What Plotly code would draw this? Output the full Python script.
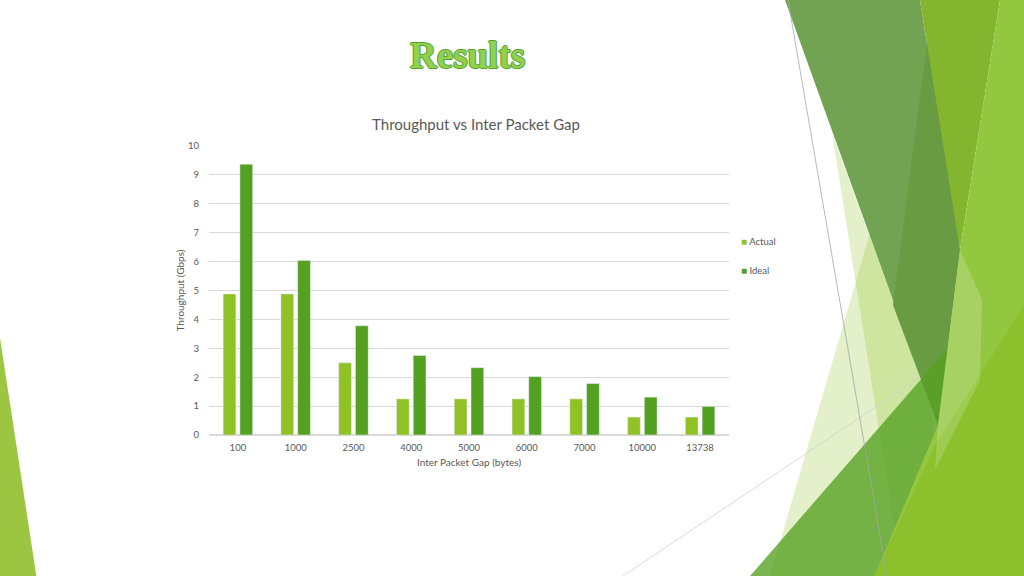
import plotly.graph_objects as go

# data
gaps = ["100", "1000", "2500", "4000", "5000", "6000", "7000", "10000", "13738"]
actual = [4.88, 4.88, 2.5, 1.25, 1.25, 1.25, 1.25, 0.62, 0.62]
ideal = [9.37, 6.04, 3.78, 2.75, 2.33, 2.02, 1.78, 1.31, 0.99]
y_ticks = [0, 1, 2, 3, 4, 5, 6, 7, 8, 9, 10]
series_names = ["Actual", "Ideal"]

W, H = 1024, 576
ACTUAL_COLOR = "#90C226"
IDEAL_COLOR = "#54A021"
TEXT_COLOR = "#595959"
FONT = "Lato"


# screen pixel -> paper (margins are 0 so paper = whole figure)
def to_paper(x, y):
    return x / W, 1 - y / H


def poly(points, color, opacity=1.0):
    parts = []
    for i, (x, y) in enumerate(points):
        px, py = to_paper(x, y)
        parts.append(("M" if i == 0 else "L") + "{:.4f},{:.4f}".format(px, py))
    return dict(type="path", path=" ".join(parts) + " Z", xref="paper", yref="paper",
                fillcolor=color, opacity=opacity, line=dict(width=0), layer="below")


def seg(p0, p1, color, width=0.8):
    x0, y0 = to_paper(*p0)
    x1, y1 = to_paper(*p1)
    return dict(type="line", x0=x0, y0=y0, x1=x1, y1=y1, xref="paper", yref="paper",
                line=dict(color=color, width=width), layer="below")


# facet style background pieces
background = [
    poly([(0, 338), (37, 580), (0, 580)], "#9CC641"),
    poly([(832, 133), (940, 430), (903, 580)], ACTUAL_COLOR, 0.25),
    poly([(900, 130), (770, 576), (950, 580)], ACTUAL_COLOR, 0.25),
    seg((623, 576), (955, 354), "#CFCFCF"),
    poly([(785, 0), (920, 0), (960, 250), (938, 425)], "#71A352"),
    poly([(930, 20), (960, 250), (938, 425), (893, 305)], "#689B42"),
    poly([(750, 576), (1030, 254), (1030, 580), (750, 580)], IDEAL_COLOR, 0.78),
    poly([(920, 0), (1000, 0), (960, 250)], "#84B52E"),
    poly([(1000, 0), (1030, 0), (1030, 580), (873, 580), (938, 425), (960, 250)], "#94C740"),
    poly([(1030, 296), (1030, 580), (873, 580), (935, 445)], "#8CC02C"),
    poly([(960, 250), (982, 300), (980, 380), (935, 470), (938, 425)], "#FFFFFF", 0.18),
    seg((788, 0), (887, 576), "#A6A6A6"),
]

fig = go.Figure()
fig.add_trace(go.Bar(x=gaps, y=actual, name=series_names[0], marker_color=ACTUAL_COLOR))
fig.add_trace(go.Bar(x=gaps, y=ideal, name=series_names[1], marker_color=IDEAL_COLOR))

x_left, x_right = to_paper(209, 0)[0], to_paper(729, 0)[0]
y_bottom, y_top = to_paper(0, 435)[1], to_paper(0, 146)[1]

# office style legend: small square right next to the name
legend_notes = []
for name, color, ypix in zip(series_names, [ACTUAL_COLOR, IDEAL_COLOR], [241, 270]):
    legend_notes.append(dict(
        text='<span style="color:{};font-size:10px">■</span> {}'.format(color, name),
        x=to_paper(739, 0)[0], y=to_paper(0, ypix)[1], xref="paper", yref="paper",
        xanchor="left", yanchor="middle", showarrow=False,
        font=dict(family=FONT, size=9.5, color=TEXT_COLOR)))

fig.update_layout(
    width=W, height=H,
    margin=dict(l=0, r=0, t=0, b=0),
    paper_bgcolor="white",
    plot_bgcolor="rgba(0,0,0,0)",
    font=dict(family=FONT, color=TEXT_COLOR, size=9.5),
    barmode="group",
    bargap=0.42,
    bargroupgap=0.24,
    showlegend=False,
    title=dict(text="Throughput vs Inter Packet Gap", x=to_paper(476, 0)[0], xanchor="center",
               y=to_paper(0, 125)[1], yanchor="middle",
               font=dict(family=FONT, size=15, color=TEXT_COLOR)),
    xaxis=dict(domain=[x_left, x_right], type="category", showgrid=False, automargin=False,
               showline=True, linecolor="#D9D9D9", linewidth=1,
               ticks="outside", ticklen=4, tickcolor="rgba(0,0,0,0)",
               title=dict(text="Inter Packet Gap (bytes)", standoff=6,
                          font=dict(size=10, color=TEXT_COLOR))),
    yaxis=dict(domain=[y_bottom, y_top], range=[0, 10], tickvals=y_ticks, automargin=False,
               showgrid=True, gridcolor="#D9D9D9", gridwidth=1,
               zeroline=True, zerolinecolor="#D9D9D9", showline=False,
               ticks="outside", ticklen=7, tickcolor="rgba(0,0,0,0)",
               title=dict(text="Throughput (Gbps)", standoff=1,
                          font=dict(size=10, color=TEXT_COLOR))),
    shapes=background,
    annotations=[dict(
        text="<b>Results</b>", x=to_paper(467, 0)[0], y=to_paper(0, 56)[1],
        xref="paper", yref="paper", xanchor="center", yanchor="middle", showarrow=False,
        font=dict(family="Liberation Serif", size=37, color="#92D050",
                  shadow="1px 0 0 #52A22C, -1px 0 0 #52A22C, 0 1px 0 #52A22C, 0 -1px 0 #52A22C"),
    )] + legend_notes,
)

# drop the default 8px body margin so the slide sits flush in the window
fig.write_html("out.html", config={"displayModeBar": False},
               post_script="document.body.style.margin = '0';")
